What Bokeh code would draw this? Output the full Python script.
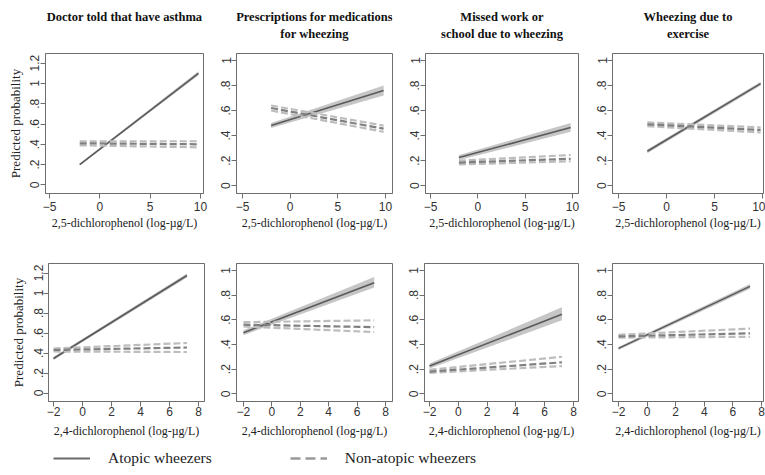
from bokeh.plotting import figure
from bokeh.layouts import column, row
from bokeh.models import FixedTicker, CustomJSTickFormatter, Range1d, Legend, LegendItem, Label
from bokeh.embed import file_html
from bokeh.resources import INLINE

# ---------------- data ----------------
titles = ["Doctor told that have asthma",
          "Prescriptions for medications\nfor wheezing",
          "Missed work or\nschool due to wheezing",
          "Wheezing due to\nexercise"]
x_label_top = "2,5-dichlorophenol (log-\u00b5g/L)"
x_label_bottom = "2,4-dichlorophenol (log-\u00b5g/L)"
y_label = "Predicted probability"
series_names = ["Atopic wheezers", "Non-atopic wheezers"]

x_ticks_top = [-5, 0, 5, 10]
x_ticks_bottom = [-2, 0, 2, 4, 6, 8]
y_ticks_asthma = [0, 0.2, 0.4, 0.6, 0.8, 1.0, 1.2]
y_ticks_other = [0, 0.2, 0.4, 0.6, 0.8, 1.0]

# exposure span of the predictions (start, end)
x_top = [-2, 9.8]
x_bottom = [-2, 7.2]

# 2,5-dichlorophenol row: [value at start, value at end] per outcome
top_atopic = [[0.20, 1.10], [0.48, 0.76], [0.225, 0.465], [0.275, 0.815]]
top_atopic_lo = [[0.19, 1.08], [0.46, 0.72], [0.205, 0.43], [0.26, 0.80]]
top_atopic_hi = [[0.21, 1.12], [0.50, 0.80], [0.245, 0.50], [0.29, 0.83]]
top_non = [[0.41, 0.40], [0.62, 0.455], [0.185, 0.215], [0.49, 0.445]]
top_non_lo = [[0.39, 0.37], [0.60, 0.43], [0.17, 0.195], [0.475, 0.425]]
top_non_hi = [[0.43, 0.43], [0.64, 0.48], [0.20, 0.245], [0.505, 0.465]]

# 2,4-dichlorophenol row
bot_atopic = [[0.345, 1.175], [0.495, 0.90], [0.225, 0.645], [0.368, 0.87]]
bot_atopic_lo = [[0.33, 1.155], [0.475, 0.86], [0.205, 0.595], [0.355, 0.85]]
bot_atopic_hi = [[0.36, 1.195], [0.515, 0.945], [0.245, 0.70], [0.38, 0.89]]
bot_non = [[0.43, 0.455], [0.56, 0.54], [0.18, 0.255], [0.465, 0.49]]
bot_non_lo = [[0.415, 0.41], [0.545, 0.50], [0.17, 0.225], [0.455, 0.462]]
bot_non_hi = [[0.445, 0.50], [0.58, 0.595], [0.195, 0.30], [0.478, 0.528]]

# ---------------- style / layout ----------------
SERIF = "Liberation Serif"
SANS = "Liberation Sans"
FRAME = "#6e6e6e"
C_ATOPIC = "#5a5a5a"
C_BAND = "#c6c6c6"
C_NON = "#808080"
C_NON_CI = "#bdbdbd"

top_xr = [(-5.4, 10.3), (-5.63, 10.73), (-5.53, 10.63), (-5.63, 10.1)]
bot_xr = [(-2.345, 8.41), (-2.49, 8.49), (-2.35, 8.35), (-2.42, 8.14)]

yfmt_code = "const s = String(+tick.toFixed(2)); return s.startsWith('0.') ? s.slice(1) : s;"


def make_title_strip(idx, borders, frame_w, strip_h):
    left, right = borders[0], borders[1]
    t = figure(frame_width=frame_w, frame_height=strip_h,
               x_range=Range1d(0, 1), y_range=Range1d(0, 1),
               x_axis_type=None, y_axis_type=None, toolbar_location=None,
               output_backend="svg", min_border_left=left, min_border_right=right,
               min_border_top=0, min_border_bottom=0)
    t.outline_line_color = None
    t.background_fill_color = "white"
    t.border_fill_color = "white"
    for k, line_txt in enumerate(titles[idx].split("\n")):
        t.add_layout(Label(x=frame_w / 2, y=strip_h - 16 - 17 * k,
                           x_units="screen", y_units="screen",
                           text=line_txt, text_align="center", text_baseline="middle",
                           text_font=SERIF, text_font_style="bold",
                           text_font_size="12.5px", text_color="#111111"))
    return t


def make_panel(idx, top, borders, frame_w, frame_h):
    left, right, above, below = borders
    if top:
        xr = Range1d(*top_xr[idx])
        xt = x_ticks_top
        xs = x_top
        at, alo, ahi = top_atopic[idx], top_atopic_lo[idx], top_atopic_hi[idx]
        nn, nlo, nhi = top_non[idx], top_non_lo[idx], top_non_hi[idx]
        xlab = x_label_top
    else:
        xr = Range1d(*bot_xr[idx])
        xt = x_ticks_bottom
        xs = x_bottom
        at, alo, ahi = bot_atopic[idx], bot_atopic_lo[idx], bot_atopic_hi[idx]
        nn, nlo, nhi = bot_non[idx], bot_non_lo[idx], bot_non_hi[idx]
        xlab = x_label_bottom
    if idx == 0:
        yr = Range1d(-0.085, 1.295)
        yt = y_ticks_asthma
    else:
        yr = Range1d(-0.062, 1.055)
        yt = y_ticks_other

    p = figure(frame_width=frame_w, frame_height=frame_h, x_range=xr, y_range=yr,
               toolbar_location=None, output_backend="svg",
               min_border_left=left, min_border_right=right,
               min_border_top=above, min_border_bottom=below)

    p.background_fill_color = "white"
    p.border_fill_color = "white"
    p.outline_line_color = FRAME
    p.outline_line_width = 1
    p.grid.visible = False

    # atopic: shaded CI band + solid line
    p.varea(x=xs, y1=alo, y2=ahi, fill_color=C_BAND, fill_alpha=1.0)
    p.line(x=xs, y=at, line_color=C_ATOPIC, line_width=1.6)
    # non-atopic: dashed CI bounds + dashed line
    p.line(x=xs, y=nlo, line_color=C_NON_CI, line_width=2.2, line_dash="7 3")
    p.line(x=xs, y=nhi, line_color=C_NON_CI, line_width=2.2, line_dash="7 3")
    p.line(x=xs, y=nn, line_color=C_NON, line_width=2.2, line_dash="7 3")

    for ax in (p.xaxis[0], p.yaxis[0]):
        ax.axis_line_color = FRAME
        ax.major_tick_line_color = FRAME
        ax.major_tick_out = 5
        ax.major_tick_in = 0
        ax.minor_tick_line_color = None
        ax.major_label_text_font = SANS
        ax.major_label_text_font_size = "12px"
        ax.major_label_text_color = "#333333"
        ax.axis_label_text_font = SERIF
        ax.axis_label_text_font_style = "normal"
        ax.axis_label_text_color = "#222222"

    p.xaxis.ticker = FixedTicker(ticks=xt)
    p.xaxis.axis_label = xlab
    p.xaxis.axis_label_text_font_size = "12px"
    p.xaxis.major_label_standoff = 3 if top else 0
    p.xaxis.axis_label_standoff = 2 if top else 5

    p.yaxis.ticker = FixedTicker(ticks=yt)
    p.yaxis.formatter = CustomJSTickFormatter(code=yfmt_code)
    p.yaxis.major_label_orientation = "vertical"
    p.yaxis.major_label_standoff = 1
    if idx == 0:
        p.yaxis.axis_label = y_label
        p.yaxis.axis_label_text_font_size = "13px"
        p.yaxis.axis_label_standoff = 5
    return p


top_specs = [((45, 12, 3, 50), 158), ((21, 12, 3, 50), 156),
             ((21, 12, 3, 50), 153), ((22, 2, 3, 50), 151)]
bot_specs = [((48, 11, 20, 40), 156), ((21, 12, 20, 40), 156),
             ((20, 12, 20, 40), 154), ((22, 2, 20, 40), 151)]

title_row = [make_title_strip(i, b, w, 50) for i, (b, w) in enumerate(top_specs)]
top_row = [make_panel(i, True, b, w, 140) for i, (b, w) in enumerate(top_specs)]
bot_row = [make_panel(i, False, b, w, 138) for i, (b, w) in enumerate(bot_specs)]

# legend strip
leg = figure(width=765, height=34, x_range=Range1d(0, 1), y_range=Range1d(0, 1),
             x_axis_type=None, y_axis_type=None, toolbar_location=None,
             output_backend="svg", min_border=0)
leg.outline_line_color = None
nan = float("nan")
r1 = leg.line(x=[nan, nan], y=[nan, nan], line_color="#6a6a6a", line_width=2)
r2 = leg.line(x=[nan, nan], y=[nan, nan], line_color="#9a9a9a", line_width=2.5, line_dash="10 5")
legend = Legend(items=[LegendItem(label=series_names[0], renderers=[r1]),
                       LegendItem(label=series_names[1], renderers=[r2])],
                orientation="horizontal", location=(53, 8), spacing=78,
                glyph_width=37, glyph_height=14, label_height=14, label_standoff=18,
                padding=0, margin=0, border_line_color=None, background_fill_alpha=0,
                label_text_font=SERIF, label_text_font_size="15.5px",
                label_text_color="#222222")
leg.add_layout(legend)

layout = column(row(*title_row), row(*top_row), row(*bot_row), leg)
open("out.html", "w").write(file_html(layout, INLINE))
